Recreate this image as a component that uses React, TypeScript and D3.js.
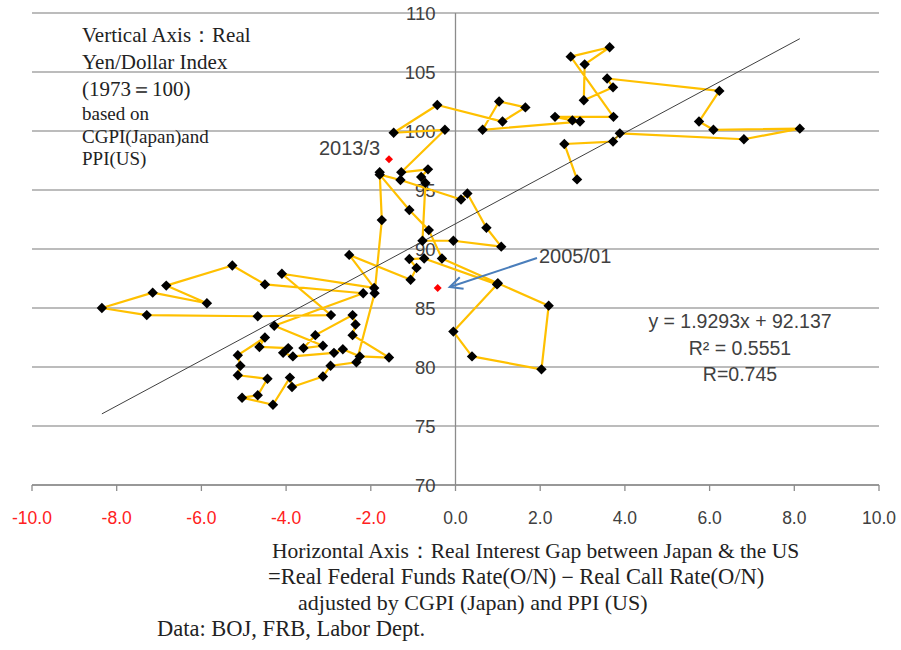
import React from "react";
import * as d3 from "d3";

// Real interest gap (x) and real Yen/Dollar index (y), in path order
const gapValues = [
  2.87, 2.57, 3.72, 3.88, 6.81, 8.13, 6.09, 5.75, 6.23, 3.58, 3.72, 3.03, 3.05, 3.64, 2.72, 3.73, 2.35, 2.76, 2.94,
  0.64, 1.03, 1.65, 1.11, -0.43, -1.46, -0.25,
  -1.28, -0.65, -0.81, -0.71, -0.78, -0.05, 1.08, 0.73, 0.28, 0.13, -1.3, -1.79, -1.09, -0.63, -0.32,
  1.0, 2.2, 2.03, 0.39, -0.05, 0.98, -0.74, -1.09, -0.92, -1.06, -2.51, -1.92,
  -4.1, -2.94, -4.67, -7.29, -8.35, -7.15, -5.87, -6.83, -5.27, -4.5, -2.18,
  -4.28, -3.13, -3.59, -3.31, -2.43, -2.36, -2.43, -1.57, -2.26, -2.66, -2.87, -3.84, -4.07, -3.95, -4.63, -4.5,
  -5.14, -5.08, -5.14, -4.44, -4.67, -5.04, -4.31, -3.91, -3.86, -3.13, -2.95, -2.34, -1.91, -1.74, -1.79,
];
const indexValues = [
  95.9, 98.9, 99.1, 99.8, 99.3, 100.2, 100.1, 100.8, 103.4, 104.45, 103.7, 102.6, 105.65, 107.1, 106.3, 101.2, 101.2, 100.9, 100.8,
  100.1, 102.5, 102.0, 100.8, 102.2, 99.85, 100.1,
  96.5, 96.75, 96.1, 95.6, 90.7, 90.7, 90.2, 91.8, 94.7, 94.2, 95.85, 96.3, 93.3, 91.6, 89.2,
  87.1, 85.2, 79.8, 80.9, 83.0, 87.0, 89.2, 89.15, 88.4, 87.4, 89.5, 86.7,
  87.9, 84.4, 84.3, 84.4, 85.0, 86.3, 85.4, 86.9, 88.6, 87.0, 86.25,
  83.5, 81.8, 81.6, 82.7, 84.4, 83.6, 82.7, 80.8, 80.9, 81.5, 81.2, 80.9, 81.2, 81.6, 81.7, 82.5,
  81.0, 80.1, 79.3, 79.0, 77.6, 77.4, 76.8, 79.1, 78.3, 79.2, 80.1, 80.4, 86.25, 92.45, 96.5,
];

const markedLabels = ["2005/01", "2013/3"];
const markedGap = [-0.42, -1.57];
const markedIndex = [86.7, 97.6];

const xTicks = [-10, -8, -6, -4, -2, 0, 2, 4, 6, 8, 10];
const yTicks = [70, 75, 80, 85, 90, 95, 100, 105, 110];

const slope = 1.9293;
const intercept = 92.137;

const verticalNote = ["Vertical Axis：Real", "Yen/Dollar Index", "(1973＝100)"];
const verticalNoteSmall = ["based on", "CGPI(Japan)and", "PPI(US)"];
const horizontalNote = [
  "Horizontal Axis：Real Interest Gap between Japan & the US",
  "=Real Federal Funds Rate(O/N)－Real Call Rate(O/N)",
  "adjusted by CGPI (Japan) and PPI (US)",
];
const sourceNote = "Data: BOJ, FRB, Labor Dept.";
const statLines = ["y = 1.9293x + 92.137", "R² = 0.5551", "R=0.745"];

export default function App() {
  const W = 901, H = 650;
  const x = d3.scaleLinear().domain([-10, 10]).range([32, 879]);
  const y = d3.scaleLinear().domain([70, 110]).range([485, 13]);
  const n = Math.min(gapValues.length, indexValues.length);
  const pts: [number, number][] = [];
  for (let i = 0; i < n; i++) pts.push([gapValues[i], indexValues[i]]);
  const line = d3.line<[number, number]>().x(d => x(d[0])).y(d => y(d[1]));
  const xMin = d3.min(gapValues) as number;
  const xMax = d3.max(gapValues) as number;
  const diamond = (cx: number, cy: number, r: number) =>
    `M${cx},${cy - r}L${cx + r},${cy}L${cx},${cy + r}L${cx - r},${cy}Z`;
  const sans = "'Liberation Sans', Arial, sans-serif";
  const serif = "'Liberation Serif', 'Times New Roman', serif";

  // arrow for 2005/01
  const ax1 = 537, ay1 = 258;
  const ax2 = x(markedGap[0]) + 12, ay2 = y(markedIndex[0]) - 1;
  const ang = Math.atan2(ay1 - ay2, ax1 - ax2);
  const hl = 14, ha = 0.45;

  return (
    <svg width={W} height={H} style={{ position: "absolute", left: 0, top: 0, background: "#fff" }}>
      {yTicks.map(t => (
        <line key={"g" + t} x1={x(-10)} x2={x(10)} y1={y(t)} y2={y(t)} stroke="#a6a6a6" strokeWidth={1.3} />
      ))}
      <line x1={x(0)} x2={x(0)} y1={y(110)} y2={y(70)} stroke="#8c8c8c" strokeWidth={1.3} />
      <line x1={x(-10)} x2={x(10)} y1={y(70)} y2={y(70)} stroke="#8c8c8c" strokeWidth={1.3} />
      {xTicks.map(t => (
        <line key={"xt" + t} x1={x(t)} x2={x(t)} y1={y(70)} y2={y(70) + 6} stroke="#8c8c8c" strokeWidth={1.3} />
      ))}
      {xTicks.map(t => (
        <text key={"xl" + t} x={x(t)} y={y(70) + 39} textAnchor="middle" fontFamily={sans} fontSize={17.5}
          fill={t < 0 ? "#ff2020" : "#404040"}>{t.toFixed(1)}</text>
      ))}
      {yTicks.map(t => (
        <text key={"yl" + t} x={x(0) - 20} y={y(t) + 6.5} textAnchor="end" fontFamily={sans} fontSize={18.5}
          fill="#404040">{t}</text>
      ))}

      <path d={line(pts) || ""} fill="none" stroke="#ffc000" strokeWidth={2.2} strokeLinejoin="round" />
      <line x1={x(xMin)} y1={y(slope * xMin + intercept)} x2={x(xMax)} y2={y(slope * xMax + intercept)}
        stroke="#404040" strokeWidth={1} />
      {pts.map((p, i) => (
        <path key={"p" + i} d={diamond(x(p[0]), y(p[1]), 5.2)} fill="#000" />
      ))}
      {markedGap.map((g, i) => (
        <path key={"r" + i} d={diamond(x(g), y(markedIndex[i]), 4)} fill="#ff0000" />
      ))}

      <text x={319} y={155} fontFamily={sans} fontSize={20} fill="#404040">{markedLabels[1]}</text>
      <text x={539} y={263} fontFamily={sans} fontSize={20} fill="#404040">{markedLabels[0]}</text>
      <line x1={ax1} y1={ay1} x2={ax2} y2={ay2} stroke="#4a7ebb" strokeWidth={2} />
      <polyline
        points={`${ax2 + hl * Math.cos(ang + ha)},${ay2 + hl * Math.sin(ang + ha)} ${ax2},${ay2} ${ax2 + hl * Math.cos(ang - ha)},${ay2 + hl * Math.sin(ang - ha)}`}
        fill="none" stroke="#4a7ebb" strokeWidth={2} />

      {statLines.map((s, i) => (
        <text key={"s" + i} x={740} y={328 + i * 26.5} textAnchor="middle" fontFamily={sans} fontSize={19.5} fill="#404040">{s}</text>
      ))}

      {verticalNote.map((s, i) => (
        <text key={"v" + i} x={82} y={42 + i * 27} fontFamily={serif} fontSize={21} fill="#222">{s}</text>
      ))}
      {verticalNoteSmall.map((s, i) => (
        <text key={"vs" + i} x={82} y={120 + i * 22.5} fontFamily={serif} fontSize={19} fill="#222">{s}</text>
      ))}
      {horizontalNote.map((s, i) => (
        <text key={"h" + i} x={[272, 268, 298][i]} y={558 + i * 26} fontFamily={serif} fontSize={[21.5, 22.5, 22][i]} fill="#222">{s}</text>
      ))}
      <text x={157} y={636} fontFamily={serif} fontSize={22.5} fill="#222">{sourceNote}</text>
    </svg>
  );
}
